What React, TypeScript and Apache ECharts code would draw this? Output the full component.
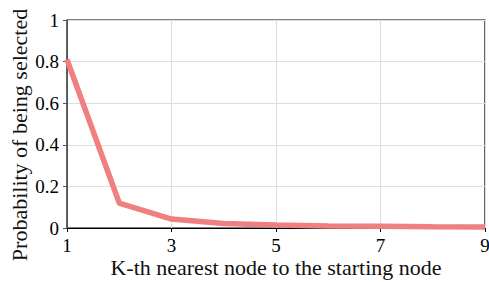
import React, { useEffect, useRef } from "react";
import * as echarts from "echarts";

const kValues = ["1", "2", "3", "4", "5", "6", "7", "8", "9"];
const probabilities = [0.81, 0.12, 0.043, 0.022, 0.014, 0.01, 0.008, 0.006, 0.005];
const xTitle = "K-th nearest node to the starting node";
const yTitle = "Probability of being selected";

const FONT = "Liberation Serif";

export default function App() {
  const ref = useRef<HTMLDivElement>(null);
  useEffect(() => {
    const chart = echarts.init(ref.current!, null, { renderer: "svg" });
    chart.setOption({
      animation: false,
      color: ["#F08080"],
      grid: {
        left: 67,
        right: 4,
        top: 20,
        bottom: 54,
        outerBoundsMode: "none",
        show: true,
        borderColor: "#000",
        borderWidth: 1.2,
      },
      xAxis: {
        type: "category",
        data: kValues,
        boundaryGap: false,
        axisLine: { lineStyle: { color: "#000" } },
        axisTick: { interval: 1, length: 4 },
        axisLabel: { interval: 1, fontSize: 19, color: "black", fontFamily: FONT },
        splitLine: { show: true, interval: 1 },
      },
      yAxis: {
        type: "value",
        min: 0,
        max: 1,
        interval: 0.2,
        axisLine: { show: true },
        axisTick: { show: true, length: 4 },
        axisLabel: { fontSize: 19, color: "black", fontFamily: FONT },
        splitLine: { show: true },
      },
      graphic: [
        {
          type: "text",
          x: 19,
          y: 135,
          rotation: Math.PI / 2,
          style: {
            text: yTitle,
            fontFamily: FONT,
            fontSize: 22,
            fill: "#111",
            align: "center",
            verticalAlign: "middle",
          },
        },
        {
          type: "text",
          x: 276,
          y: 267,
          style: {
            text: xTitle,
            fontFamily: FONT,
            fontSize: 22,
            fill: "#111",
            align: "center",
            verticalAlign: "middle",
          },
        },
      ],
      series: [
        {
          type: "line",
          data: probabilities,
          symbol: "none",
          lineStyle: { width: 5.5 },
        },
      ],
    });
    return () => chart.dispose();
  }, []);
  return <div ref={ref} style={{ width: 489, height: 282, position: "absolute", left: 0, top: 0 }} />;
}
